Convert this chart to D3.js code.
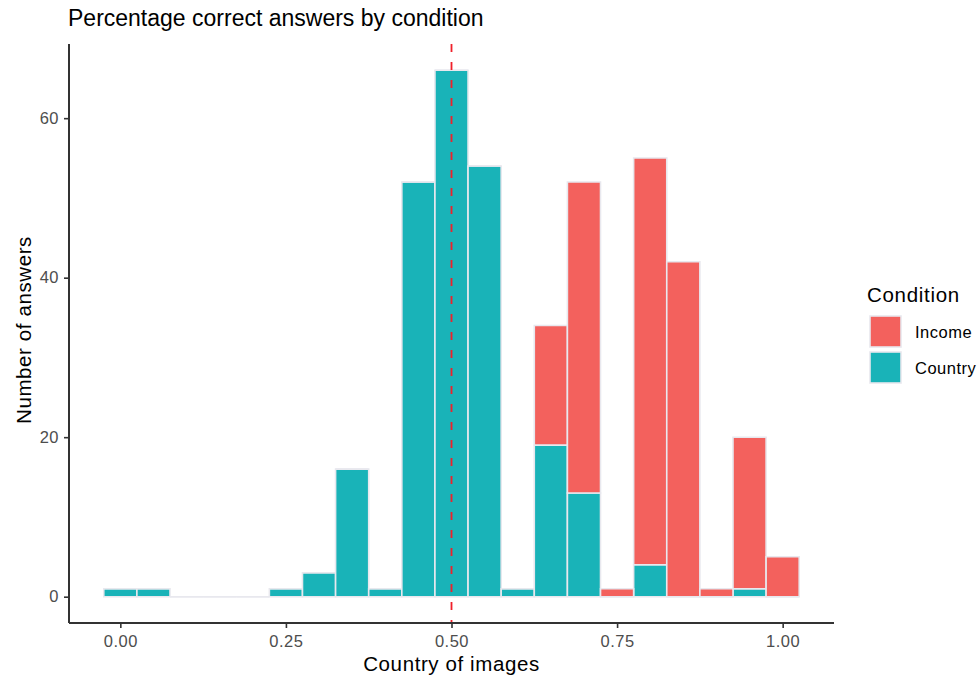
<!DOCTYPE html>
<html><head><meta charset="utf-8">
<script src="https://cdn.jsdelivr.net/npm/d3@7"></script>
<style>body{margin:0;background:#fff;} text{font-family:"Liberation Sans",Arial,Helvetica,sans-serif;}</style>
</head><body>
<svg id="c" width="979" height="678"></svg>
<script>
const binCenters = [0.00,0.05,0.10,0.15,0.20,0.25,0.30,0.35,0.40,0.45,0.50,0.55,0.60,0.65,0.70,0.75,0.80,0.85,0.90,0.95,1.00];
const countryCounts = [1,1,0,0,0,1,3,16,1,52,66,54,1,19,13,0,4,0,0,1,0];
const incomeCounts  = [0,0,0,0,0,0,0,0,0,0,0,0,0,15,39,1,51,42,1,19,5];
const xTicks = [0,0.25,0.5,0.75,1.0];
const yTicks = [0,20,40,60];
const seriesNames = ["Income","Country"];
const seriesColors = ["#F3615D","#19B3B8"];
const binWidth = 0.05;
const vline = 0.5;

const svg = d3.select("#c");
const M = {l:69, r:834, t:44, b:623};
const xMin = binCenters[0]-binWidth/2, xMax = binCenters[binCenters.length-1]+binWidth/2;
const xPad = (xMax-xMin)*0.05;
const x = d3.scaleLinear().domain([xMin-xPad, xMax+xPad]).range([M.l, M.r]);
const totals = binCenters.map((c,i)=>countryCounts[i]+incomeCounts[i]);
const yMaxV = d3.max(totals);
const yPad = yMaxV*0.05;
const y = d3.scaleLinear().domain([-yPad, yMaxV+yPad]).range([M.b, M.t]);

const rows = binCenters.map((c,i)=>({c, Country:countryCounts[i], Income:incomeCounts[i]}));
const stack = d3.stack().keys(["Country","Income"])(rows);
const colorOf = {Income:seriesColors[0], Country:seriesColors[1]};
const strokeCol = "#E8E8EE";

const g = svg.append("g");
stack.forEach(layer=>{
  g.selectAll(null).data(layer).enter().append("path")
    .attr("d", d=>{
      const x0 = x(d.data.c-binWidth/2), x1 = x(d.data.c+binWidth/2);
      const y0 = y(d[0]), y1 = y(d[1]);
      return `M${x0},${y0}H${x1}V${y1}H${x0}Z`;
    })
    .attr("fill", colorOf[layer.key])
    .attr("stroke", strokeCol)
    .attr("stroke-width", 1.6)
    .attr("stroke-linejoin","miter");
});

// dashed vline
svg.append("line").attr("x1",x(vline)).attr("x2",x(vline)).attr("y1",M.t).attr("y2",M.b)
  .attr("stroke","#F0202A").attr("stroke-width",1.8).attr("stroke-dasharray","8,10");

// axes
const tickFont = "16.5px";
const xa = svg.append("g").attr("transform",`translate(0,${M.b})`)
  .call(d3.axisBottom(x).tickValues(xTicks).tickFormat(d3.format(".2f")).tickSizeOuter(0).tickSize(5).tickPadding(7));
const ya = svg.append("g").attr("transform",`translate(${M.l},0)`)
  .call(d3.axisLeft(y).tickValues(yTicks).tickSizeOuter(0).tickSize(5).tickPadding(5));
[xa,ya].forEach(a=>{
  a.select(".domain").attr("stroke","#333").attr("stroke-width",2);
  a.selectAll(".tick line").attr("stroke","#333").attr("stroke-width",1.6);
  a.selectAll(".tick text").attr("fill","#4D4D4D").style("font-size",tickFont)
    .style("letter-spacing","0.5px").style("font-family","'Liberation Sans',Arial,sans-serif");
});
xa.select(".domain").attr("d",`M${M.l},0H${M.r}`);
ya.select(".domain").attr("d",`M0,${M.b}V${M.t}`);

// titles
svg.append("text").attr("x",68).attr("y",26).text("Percentage correct answers by condition")
  .style("font-size","23px").attr("fill","#000");
svg.append("text").attr("x",x(0.5)).attr("y",671).attr("text-anchor","middle").text("Country of images")
  .style("font-size","20.5px").style("letter-spacing","0.6px").attr("fill","#000");
svg.append("text").attr("transform",`translate(31,330) rotate(-90)`).attr("text-anchor","middle")
  .text("Number of answers").style("font-size","20.5px").style("letter-spacing","0.6px").attr("fill","#000");

// legend
const lg = svg.append("g");
lg.append("text").attr("x",867).attr("y",302).text("Condition").style("font-size","20.5px")
  .style("letter-spacing","0.7px").attr("fill","#000");
seriesNames.forEach((n,i)=>{
  const yy = 316 + i*36;
  lg.append("rect").attr("x",870).attr("y",yy).attr("width",31).attr("height",31)
    .attr("fill",seriesColors[i]).attr("stroke",strokeCol).attr("stroke-width",1.6);
  lg.append("text").attr("x",915).attr("y",yy+21.5).text(n).style("font-size","16.5px")
    .style("letter-spacing","0.5px").attr("fill","#000");
});
</script>
</body></html>
